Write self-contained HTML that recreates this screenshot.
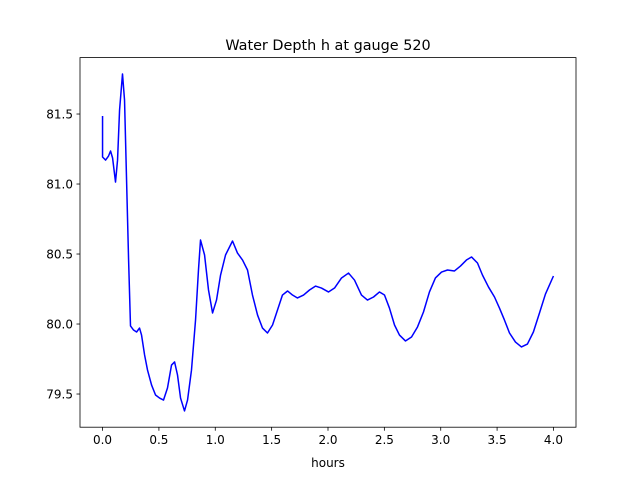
<!DOCTYPE html>
<html><head><meta charset="utf-8"><style>
body{margin:0;background:#fff;}
svg text{font-family:"DejaVu Sans","Liberation Sans",sans-serif;fill:#000;}
</style></head><body>
<svg id="chart" width="640" height="480" xmlns="http://www.w3.org/2000/svg">
<rect width="640" height="480" fill="#fff"/>
<text x="328" y="50" font-size="14.4" text-anchor="middle">Water Depth h at gauge 520</text>
<g id="ticks"></g>
<polyline id="series" fill="none" stroke="#0000ff" stroke-width="1.5" stroke-linejoin="round"/>
<rect x="80" y="57.6" width="496" height="369.6" fill="none" stroke="#000" stroke-width="0.8"/>
<text x="328" y="467" font-size="12" text-anchor="middle">hours</text>
</svg>
<script>
const hours=[0,0,.027,.053,.071,.089,.115,.133,.151,.177,.195,.213,.231,.248,.275,.302,.328,.346,.373,.399,.435,.470,.506,.541,.576,.612,.639,.665,.692,.727,.754,.789,.825,.851,.869,.905,.940,.976,1.011,1.047,1.091,1.153,1.197,1.242,1.286,1.330,1.375,1.419,1.463,1.508,1.552,1.596,1.641,1.685,1.729,1.783,1.836,1.889,1.942,2.004,2.058,2.120,2.182,2.235,2.297,2.350,2.404,2.457,2.501,2.545,2.590,2.634,2.687,2.741,2.794,2.847,2.900,2.953,3.007,3.060,3.122,3.175,3.228,3.273,3.326,3.370,3.424,3.477,3.521,3.565,3.610,3.663,3.716,3.769,3.822,3.876,3.929,4.0];
const depth=[81.486,81.193,81.171,81.2,81.236,81.186,81.014,81.171,81.529,81.786,81.6,81.029,80.457,79.986,79.957,79.943,79.971,79.921,79.779,79.671,79.564,79.493,79.471,79.457,79.543,79.707,79.729,79.636,79.471,79.379,79.457,79.671,80.029,80.386,80.6,80.493,80.243,80.079,80.171,80.35,80.493,80.593,80.507,80.457,80.386,80.207,80.064,79.971,79.936,79.993,80.1,80.207,80.236,80.207,80.186,80.207,80.243,80.271,80.257,80.229,80.257,80.329,80.364,80.314,80.207,80.171,80.193,80.229,80.207,80.114,79.993,79.921,79.879,79.907,79.979,80.086,80.229,80.329,80.371,80.386,80.379,80.414,80.457,80.479,80.436,80.35,80.264,80.193,80.114,80.029,79.936,79.871,79.836,79.857,79.943,80.079,80.214,80.343];
const xTicks=[0,0.5,1,1.5,2,2.5,3,3.5,4];
const yTicks=[79.5,80,80.5,81,81.5];
const X0=80,X1=576,Y0=57.6,Y1=427.2,xmin=-0.2,xmax=4.2,ymin=79.263,ymax=81.903;
const sx=v=>X0+(v-xmin)/(xmax-xmin)*(X1-X0);
const sy=v=>Y1-(v-ymin)/(ymax-ymin)*(Y1-Y0);
const NS="http://www.w3.org/2000/svg";
document.getElementById('series').setAttribute('points',hours.map((h,i)=>sx(h).toFixed(2)+','+sy(depth[i]).toFixed(2)).join(' '));
const g=document.getElementById('ticks');
xTicks.forEach(t=>{
  const l=document.createElementNS(NS,'line');
  
  
  l.setAttribute('x1',sx(t));l.setAttribute('x2',sx(t));l.setAttribute('y1',Y1);l.setAttribute('y2',Y1+3.5);l.setAttribute('stroke','#000');l.setAttribute('stroke-width','0.8');g.appendChild(l);
  const tx=document.createElementNS(NS,'text');
  
  
  tx.setAttribute('x',sx(t));tx.setAttribute('y',Y1+17);tx.setAttribute('font-size','12');tx.setAttribute('text-anchor','middle');tx.textContent=t.toFixed(1);g.appendChild(tx);
});
yTicks.forEach(t=>{
  const l=document.createElementNS(NS,'line');
  
  
  l.setAttribute('x1',X0-3.5);l.setAttribute('x2',X0);l.setAttribute('y1',sy(t));l.setAttribute('y2',sy(t));l.setAttribute('stroke','#000');l.setAttribute('stroke-width','0.8');g.appendChild(l);
  const tx=document.createElementNS(NS,'text');
  
  
  tx.setAttribute('x',X0-7);tx.setAttribute('y',sy(t)+4.5);tx.setAttribute('font-size','12');tx.setAttribute('text-anchor','end');tx.textContent=t.toFixed(1);g.appendChild(tx);
});
</script>
</body></html>
